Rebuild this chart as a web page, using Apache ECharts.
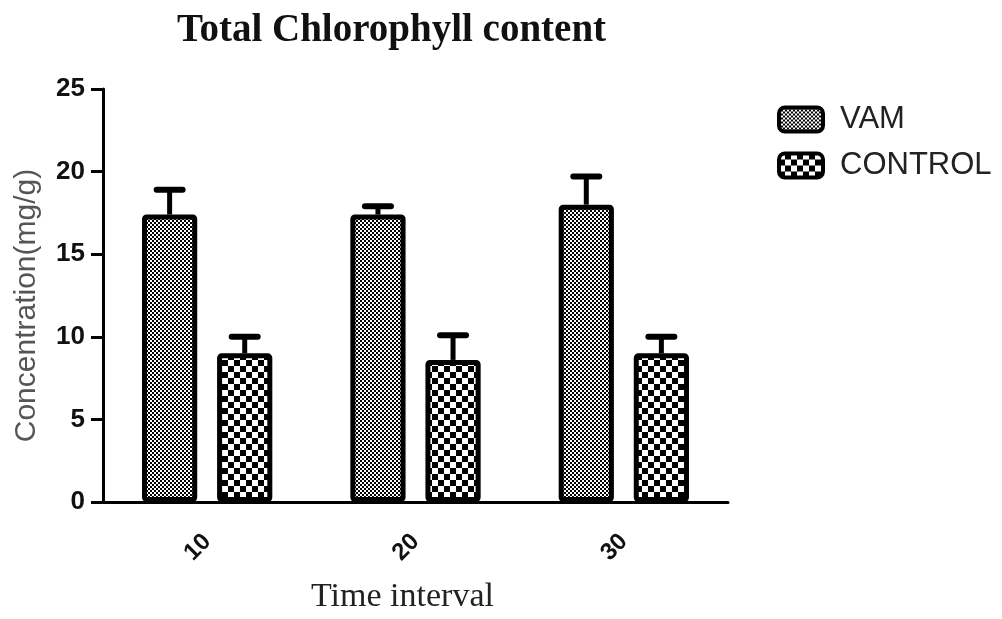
<!DOCTYPE html>
<html>
<head>
<meta charset="utf-8">
<script src="https://cdn.jsdelivr.net/npm/echarts@6/dist/echarts.min.js"></script>
<style>
  html, body { margin: 0; padding: 0; background: #fff; }
  #chart { width: 1002px; height: 619px; }
</style>
</head>
<body>
<div id="chart"></div>
<script>
// data
var categories = ['10', '20', '30'];
var seriesNames = ['VAM', 'CONTROL'];
var vamMean = [17.4, 17.4, 18.0];
var vamUpper = [18.9, 17.9, 19.7];
var controlMean = [9.0, 8.6, 9.0];
var controlUpper = [10.0, 10.1, 10.0];
var yTicks = [0, 5, 10, 15, 20, 25];

var BAR_FRAC = 0.265;  // bar width as share of the category band
var GAP_FRAC = 0.36;   // gap between the two bars, share of bar width

function makePattern(cell, tile, blackBg) {
  var c = document.createElement('canvas');
  c.width = tile; c.height = tile;
  var ctx = c.getContext('2d');
  ctx.fillStyle = blackBg ? '#000' : '#fff';
  ctx.fillRect(0, 0, tile, tile);
  ctx.fillStyle = blackBg ? '#fff' : '#000';
  ctx.fillRect(0, 0, cell, cell);
  ctx.fillRect(tile / 2, tile / 2, cell, cell);
  return c;
}
var finePattern = makePattern(2, 4, false);
var coarsePattern = makePattern(6, 12, true);

function errorSeries(means, uppers, sign) {
  var data = means.map(function (m, i) { return [i, m, uppers[i]]; });
  return {
    type: 'custom',
    silent: true,
    z: 1,
    encode: { x: 0, y: [1, 2] },
    data: data,
    renderItem: function (params, api) {
      var idx = api.value(0);
      var band = api.size([1, 0])[0];
      var barW = band * BAR_FRAC;
      var off = sign * (barW + barW * GAP_FRAC) / 2;
      var p0 = api.coord([idx, api.value(1)]);
      var p1 = api.coord([idx, api.value(2)]);
      var x = p0[0] + off;
      return {
        type: 'group',
        children: [
          { type: 'line', shape: { x1: x, y1: p0[1], x2: x, y2: p1[1] },
            style: { stroke: '#000', lineWidth: 5 } },
          { type: 'line', shape: { x1: x - 13, y1: p1[1], x2: x + 13, y2: p1[1] },
            style: { stroke: '#000', lineWidth: 6, lineCap: 'round' } }
        ]
      };
    }
  };
}

var chart = echarts.init(document.getElementById('chart'));
chart.setOption({
  animation: false,
  backgroundColor: '#fff',
  title: {
    text: 'Total Chlorophyll content',
    left: 172,
    top: 6,
    textStyle: { fontFamily: 'Liberation Serif', fontWeight: 'bold', fontSize: 39, color: '#111' }
  },
  legend: {
    data: seriesNames,
    orient: 'vertical',
    left: 772,
    top: 99,
    itemWidth: 44,
    itemHeight: 24,
    itemGap: 15,
    icon: 'roundRect',
    itemStyle: { borderColor: '#000', borderWidth: 4 },
    textStyle: { fontFamily: 'Liberation Sans', fontSize: 31, color: '#222', padding: [0, 0, 0, 12] }
  },
  grid: { left: 103, top: 89, right: 274, bottom: 114, containLabel: false },
  xAxis: {
    type: 'category',
    data: categories,
    name: 'Time interval',
    nameLocation: 'middle',
    nameGap: 78,
    nameTextStyle: { fontFamily: 'Liberation Serif', fontSize: 34, color: '#222', padding: [0, 26, 0, 0] },
    axisLine: { lineStyle: { color: '#000', width: 3 } },
    axisTick: { alignWithLabel: true, length: 12, lineStyle: { color: '#000', width: 3 } },
    axisLabel: {
      rotate: 45, margin: 36,
      fontFamily: 'Liberation Sans', fontWeight: 'bold', fontSize: 24, color: '#111'
    }
  },
  yAxis: {
    type: 'value',
    min: yTicks[0],
    max: yTicks[yTicks.length - 1],
    interval: 5,
    name: 'Concentration(mg/g)',
    nameLocation: 'middle',
    nameRotate: 90,
    nameGap: 61,
    nameTextStyle: { fontFamily: 'Liberation Sans', fontSize: 30, color: '#555', padding: [0, 20, 0, 0] },
    splitLine: { show: false },
    axisLine: { show: true, lineStyle: { color: '#000', width: 3 } },
    axisTick: { show: true, length: 12, lineStyle: { color: '#000', width: 3 } },
    axisLabel: { margin: 18, fontFamily: 'Liberation Sans', fontWeight: 'bold', fontSize: 26, color: '#111' }
  },
  series: [
    errorSeries(vamMean, vamUpper, -1),
    errorSeries(controlMean, controlUpper, 1),
    {
      name: 'VAM',
      type: 'bar',
      z: 2,
      barWidth: (BAR_FRAC * 100) + '%',
      barGap: (GAP_FRAC * 100) + '%',
      data: vamMean,
      itemStyle: {
        color: { image: finePattern, repeat: 'repeat' },
        borderColor: '#000', borderWidth: 5, borderRadius: 2
      }
    },
    {
      name: 'CONTROL',
      type: 'bar',
      z: 2,
      barWidth: (BAR_FRAC * 100) + '%',
      data: controlMean,
      itemStyle: {
        color: { image: coarsePattern, repeat: 'repeat' },
        borderColor: '#000', borderWidth: 5, borderRadius: 2
      }
    }
  ]
});
</script>
</body>
</html>
